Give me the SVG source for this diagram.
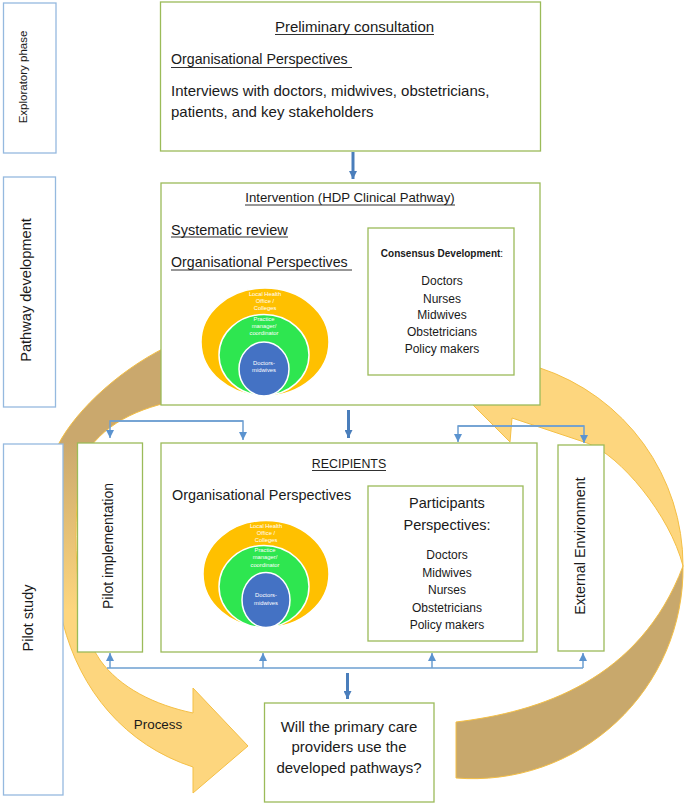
<svg xmlns="http://www.w3.org/2000/svg" width="685" height="804" viewBox="0 0 685 804">
<defs>
<style>
.t{font-family:"Liberation Sans",Arial,sans-serif;fill:#1a1a1a}
.w{font-family:"Liberation Sans",Arial,sans-serif;fill:#ffffff;font-size:5.8px;text-anchor:middle}
.gb{fill:#ffffff;stroke:#9bbb59;stroke-width:1.3}
.bb{fill:#ffffff;stroke:#95b9df;stroke-width:1.3}
.ul{stroke:#1a1a1a;stroke-width:0.9}
.thick{stroke:#4a7ebb;stroke-width:3;fill:none}
.thin{stroke:#6d9fd1;stroke-width:1.5;fill:none}
.band{stroke:#f4bf45;stroke-width:1}
</style>
<linearGradient id="lg" gradientUnits="userSpaceOnUse" x1="0" y1="440" x2="0" y2="610">
<stop offset="0" stop-color="#caa86d"/>
<stop offset="1" stop-color="#fdd67e"/>
</linearGradient>
<marker id="ak" markerUnits="userSpaceOnUse" markerWidth="9" markerHeight="8" refX="8" refY="4" orient="auto">
<path d="M0,0 L8,4 L0,8 z" fill="#4a7ebb"/>
</marker>
<marker id="an" markerUnits="userSpaceOnUse" markerWidth="9" markerHeight="9" refX="8" refY="4" orient="auto">
<path d="M0,0 L8,4 L0,8 z" fill="#5b93cf"/>
</marker>
</defs>

<g id="cycle-arrows">
<path class="band" fill="url(#lg)" d="M175,343 C125,365 77,408 58,445 C45,500 45,570 63,623 C80,690 125,745 193,767 L193,793 L248,746 L193,688 L193,713 C155,705 120,688 100,660 C75,625 72,540 80,465 C95,430 130,410 175,401 Z"/>
<path class="band" fill="#fdd67e" d="M512,418 L510,442 L440,372 L500,350 L540,368 A208,208 0 0 1 683,566 C670,515 620,455 587,443 Z"/>
<path class="band" fill="#c8a86c" d="M683,566 A210,210 0 0 1 456,778 L456,722 C540,712 640,680 683,566 Z"/>
</g>

<g id="exploratory-phase">
<rect class="bb" x="3.5" y="3" width="52.5" height="150"/>
<text class="t" font-size="11.5" text-anchor="middle" transform="translate(27,77) rotate(-90)">Exploratory phase</text>
</g>
<g id="pathway-development">
<rect class="bb" x="3.5" y="177" width="52" height="230"/>
<text class="t" font-size="14.6" text-anchor="middle" transform="translate(31,290) rotate(-90)">Pathway development</text>
</g>
<g id="pilot-study">
<rect class="bb" x="3.5" y="444" width="59.5" height="351"/>
<text class="t" font-size="14.5" text-anchor="middle" transform="translate(33,618) rotate(-90)">Pilot study</text>
</g>

<g id="preliminary-consultation">
<rect class="gb" x="160.5" y="2" width="380" height="149"/>
<text class="t" font-size="15" x="354.5" y="32" text-anchor="middle">Preliminary consultation</text>
<line class="ul" x1="275" y1="34.5" x2="434" y2="34.5"/>
<text class="t" font-size="14.2" x="171" y="64">Organisational Perspectives </text>
<line class="ul" x1="171" y1="67.5" x2="352" y2="67.5"/>
<text class="t" font-size="15" x="171" y="96">Interviews with doctors, midwives, obstetricians,</text>
<text class="t" font-size="15" x="171" y="117">patients, and key stakeholders</text>
</g>

<g id="intervention">
<rect class="gb" x="161" y="183" width="379" height="222"/>
<text class="t" font-size="13.2" x="350" y="202" text-anchor="middle">Intervention (HDP Clinical Pathway)</text>
<line class="ul" x1="245" y1="205" x2="455" y2="205"/>
<text class="t" font-size="14.5" x="171" y="235">Systematic review</text>
<line class="ul" x1="171" y1="237" x2="288" y2="237"/>
<text class="t" font-size="14.2" x="171" y="267">Organisational Perspectives </text>
<line class="ul" x1="171" y1="270" x2="352" y2="270"/>
<ellipse cx="265" cy="342" rx="64" ry="54" fill="#ffc000" stroke="#ffffff" stroke-width="1.5"/>
<ellipse cx="264" cy="355" rx="45" ry="40.5" fill="#2ee650" stroke="#ffffff" stroke-width="1.5"/>
<ellipse cx="264" cy="369" rx="25" ry="27" fill="#4472c4" stroke="#ffffff" stroke-width="1.5"/>
<text class="w" x="265" y="296">Local Health</text>
<text class="w" x="265" y="303">Office /</text>
<text class="w" x="265" y="310">Colleges</text>
<text class="w" x="264" y="321">Practice</text>
<text class="w" x="264" y="328">manager/</text>
<text class="w" x="264" y="335">coordinator</text>
<text class="w" x="264" y="365">Doctors-</text>
<text class="w" x="264" y="372">midwives</text>
</g>
<g id="consensus-development">
<rect class="gb" x="368" y="228" width="146" height="147"/>
<text class="t" font-size="10" x="442" y="257" text-anchor="middle"><tspan font-weight="bold">Consensus Development</tspan>:</text>
<text class="t" font-size="12" x="442" y="285" text-anchor="middle">Doctors</text>
<text class="t" font-size="12" x="442" y="303" text-anchor="middle">Nurses</text>
<text class="t" font-size="12" x="442" y="319" text-anchor="middle">Midwives</text>
<text class="t" font-size="12" x="442" y="336" text-anchor="middle">Obstetricians</text>
<text class="t" font-size="12" x="442" y="353" text-anchor="middle">Policy makers</text>
</g>

<g id="pilot-implementation">
<rect class="gb" x="77.5" y="443" width="65" height="209"/>
<text class="t" font-size="14" text-anchor="middle" transform="translate(113,546) rotate(-90)">Pilot implementation</text>
</g>
<g id="recipients">
<rect class="gb" x="161" y="443" width="376" height="209"/>
<text class="t" font-size="12.4" x="349" y="468" text-anchor="middle">RECIPIENTS</text>
<line class="ul" x1="312" y1="470.5" x2="386" y2="470.5"/>
<text class="t" font-size="14.4" x="172" y="500">Organisational Perspectives</text>
<ellipse cx="266" cy="574" rx="63" ry="53.5" fill="#ffc000" stroke="#ffffff" stroke-width="1.5"/>
<ellipse cx="264" cy="586.5" rx="45" ry="41" fill="#2ee650" stroke="#ffffff" stroke-width="1.5"/>
<ellipse cx="266" cy="600" rx="24" ry="27.5" fill="#4472c4" stroke="#ffffff" stroke-width="1.5"/>
<text class="w" x="266" y="528">Local Health</text>
<text class="w" x="266" y="535">Office /</text>
<text class="w" x="266" y="542">Colleges</text>
<text class="w" x="265" y="552">Practice</text>
<text class="w" x="265" y="559">manager/</text>
<text class="w" x="265" y="567">coordinator</text>
<text class="w" x="266" y="597">Doctors-</text>
<text class="w" x="266" y="605">midwives</text>
</g>
<g id="participants-perspectives">
<rect class="gb" x="368" y="486" width="155" height="155"/>
<text class="t" font-size="14.5" x="447" y="508" text-anchor="middle">Participants</text>
<text class="t" font-size="14.5" x="447" y="530" text-anchor="middle">Perspectives:</text>
<text class="t" font-size="12" x="447" y="559" text-anchor="middle">Doctors</text>
<text class="t" font-size="12" x="447" y="577" text-anchor="middle">Midwives</text>
<text class="t" font-size="12" x="447" y="594" text-anchor="middle">Nurses</text>
<text class="t" font-size="12" x="447" y="612" text-anchor="middle">Obstetricians</text>
<text class="t" font-size="12" x="447" y="629" text-anchor="middle">Policy makers</text>
</g>
<g id="external-environment">
<rect class="gb" x="558" y="445" width="46" height="206"/>
<text class="t" font-size="14.4" text-anchor="middle" transform="translate(585,546) rotate(-90)">External Environment</text>
</g>

<g id="outcome-question">
<rect class="gb" x="264.5" y="703" width="169.5" height="99"/>
<text class="t" font-size="15" x="349" y="732" text-anchor="middle">Will the primary care</text>
<text class="t" font-size="15" x="349" y="752" text-anchor="middle">providers use the</text>
<text class="t" font-size="15" x="349" y="773" text-anchor="middle">developed pathways?</text>
</g>

<g id="process-label">
<text class="t" font-size="13.4" x="158" y="729" text-anchor="middle">Process</text>
</g>

<g id="connectors">
<line class="thick" x1="353" y1="152" x2="353" y2="179" marker-end="url(#ak)"/>
<line class="thick" x1="348.5" y1="410" x2="348.5" y2="438" marker-end="url(#ak)"/>
<line class="thick" x1="347.5" y1="673" x2="347.5" y2="699" marker-end="url(#ak)"/>
<path class="thin" d="M243,421 H110 V438" marker-end="url(#an)"/>
<path class="thin" d="M110,421 H243 V440" marker-end="url(#an)"/>
<path class="thin" d="M584,426 H458 V442" marker-end="url(#an)"/>
<path class="thin" d="M458,426 H584 V443" marker-end="url(#an)"/>
<line class="thin" x1="107" y1="668" x2="583" y2="668"/>
<line class="thin" x1="110" y1="668" x2="110" y2="653" marker-end="url(#an)"/>
<line class="thin" x1="263" y1="668" x2="263" y2="653" marker-end="url(#an)"/>
<line class="thin" x1="432" y1="668" x2="432" y2="653" marker-end="url(#an)"/>
<line class="thin" x1="583" y1="668" x2="583" y2="653" marker-end="url(#an)"/>
</g>
</svg>
